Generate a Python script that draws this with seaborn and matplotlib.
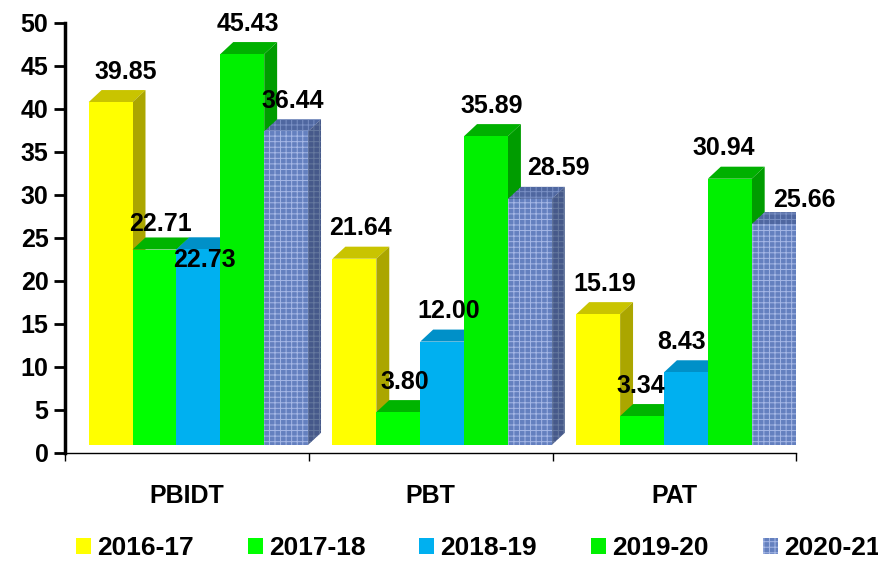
import numpy as np
import pandas as pd
import seaborn as sns
import matplotlib.pyplot as plt
from matplotlib.patches import Polygon, Patch

# data
metrics = ["PBIDT", "PBT", "PAT"]
years = ["2016-17", "2017-18", "2018-19", "2019-20", "2020-21"]
v_2016_17 = [39.85, 21.64, 15.19]
v_2017_18 = [22.71, 3.80, 3.34]
v_2018_19 = [22.73, 12.00, 8.43]
v_2019_20 = [45.43, 35.89, 30.94]
v_2020_21 = [36.44, 28.59, 25.66]

df = pd.DataFrame({
    "Metric": metrics * 5,
    "Year": np.repeat(years, 3),
    "Value": v_2016_17 + v_2017_18 + v_2018_19 + v_2019_20 + v_2020_21,
})

# colours: front / top / side of the fake 3D bars
front_cols = ["#FFFF00", "#00FF00", "#00B0F0", "#00F000", "#6480BF"]
top_cols = ["#C9C400", "#00B400", "#0090C8", "#00B000", "#4F67A0"]
side_cols = ["#ABA600", "#009E00", "#007FB0", "#009C00", "#46598A"]
tex_cols = ["#A6B8E6", "#7A90C4", "#66799F"]

# 3D look: lift of the front face, depth offsets
lift = 0.95
dx, dy = 0.053, 1.4
x_shift = 0.047

# label nudges where the original moved them
nudge = {(0, 0): (0.035, 0), (0, 1): (0.0, -0.6), (0, 2): (0.0, -4.8),
         (1, 4): (0.09, 0), (2, 4): (0.1, -0.7), (2, 3): (-0.05, 0),
         (2, 2): (-0.045, 0), (2, 1): (-0.03, 0)}

sns.set_style("white")
plt.rcParams["font.family"] = ["Liberation Sans", "DejaVu Sans"]
plt.rcParams["text.color"] = "black"
plt.rcParams["xtick.color"] = "black"
plt.rcParams["ytick.color"] = "black"
plt.rcParams["hatch.linewidth"] = 0.7

fig = plt.figure(figsize=(8.79, 5.63), dpi=100)
ax = fig.add_axes([0.074, 0.1954, 0.832, 0.7638])

sns.barplot(data=df, x="Metric", y="Value", hue="Year", order=metrics,
            hue_order=years, palette=front_cols, width=0.9, saturation=1,
            errorbar=None, legend=False, linewidth=0, ax=ax)

bars = list(ax.patches)
order = np.argsort([b.get_x() for b in bars])
for rank, i in enumerate(order):
    b = bars[i]
    yi, mi = i // 3, i % 3
    val = b.get_height()
    b.set_x(b.get_x() + x_shift)
    b.set_y(lift)
    z = 3 + 0.1 * rank
    b.set_zorder(z)
    x0, w = b.get_x(), b.get_width()
    x1 = x0 + w
    ytop = lift + val
    topf = Polygon([(x0, ytop), (x1, ytop), (x1 + dx, ytop + dy), (x0 + dx, ytop + dy)],
                   closed=True, facecolor=top_cols[yi], edgecolor="none", zorder=z - 0.01)
    sidef = Polygon([(x1, lift), (x1 + dx, lift + dy), (x1 + dx, ytop + dy), (x1, ytop)],
                    closed=True, facecolor=side_cols[yi], edgecolor="none", zorder=z - 0.01)
    if yi == 4:
        for p, c in zip([b, topf, sidef], tex_cols):
            p.set_hatch("+++")
            p.set_edgecolor(c)
            p.set_linewidth(0)
    ax.add_patch(topf)
    ax.add_patch(sidef)
    nx, ny = nudge.get((mi, yi), (0, 0))
    ax.text(x0 + w / 2 + 0.025 + nx, val + 4.5 + ny, f"{val:.2f}",
            ha="center", va="center", fontsize=18, fontweight="bold", zorder=20)

ax.set_xlim(-0.5, 2.5)
ax.set_ylim(0, 50)
ax.set_yticks(np.arange(0, 51, 5))
ax.set_xticks([-0.5, 0.5, 1.5, 2.5], minor=True)
ax.set_xlabel("")
ax.set_ylabel("")
for s in ["top", "right"]:
    ax.spines[s].set_visible(False)
ax.spines["left"].set_linewidth(2.5)
ax.spines["left"].set_color("black")
ax.spines["bottom"].set_linewidth(1)
ax.spines["bottom"].set_color("black")

ax.tick_params(axis="y", direction="out", length=8, width=2, pad=4, left=True)
ax.tick_params(axis="x", which="major", length=0, pad=22)
ax.tick_params(axis="x", which="minor", direction="out", length=6, width=1, bottom=True)
for t in ax.get_yticklabels():
    t.set_fontsize(18)
    t.set_fontweight("bold")
for t in ax.get_xticklabels():
    t.set_fontsize(18)
    t.set_fontweight("bold")

handles = []
for k in range(5):
    h = Patch(facecolor=front_cols[k], edgecolor="none")
    if k == 4:
        h = Patch(facecolor=front_cols[k], edgecolor=tex_cols[0], hatch="+++", linewidth=0)
    handles.append(h)
fig.legend(handles, years, loc="center", bbox_to_anchor=(0.544, 1 - 548 / 563), ncol=5,
           frameon=False, handlelength=0.57, handleheight=0.57, handletextpad=0.23,
           columnspacing=2.05, prop={"weight": "bold", "size": 19})

plt.savefig("out.png", dpi=100)
